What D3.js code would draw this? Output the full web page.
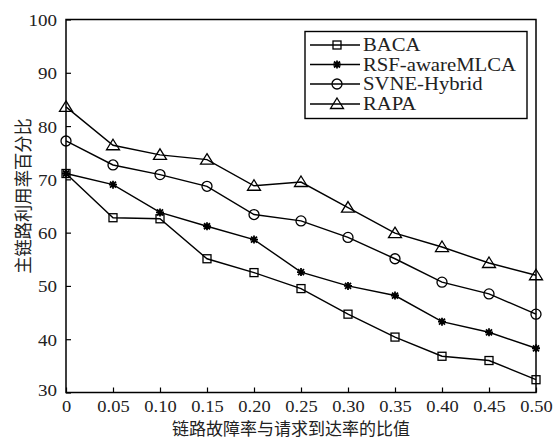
<!DOCTYPE html>
<html><head><meta charset="utf-8">
<script src="https://cdn.jsdelivr.net/npm/d3@7"></script>
<style>body{margin:0;background:#fff}svg{display:block}</style>
</head><body><svg id="c" width="558" height="440"></svg>
<script>
const xValues = [0,0.05,0.10,0.15,0.20,0.25,0.30,0.35,0.40,0.45,0.50];
const xTickLabels = ["0","0.05","0.10","0.15","0.20","0.25","0.30","0.35","0.40","0.45","0.50"];
const yTicks = [30,40,50,60,70,80,90,100];
const seriesNames = ["BACA","RSF-awareMLCA","SVNE-Hybrid","RAPA"];
const baca = [71.1,62.8,62.6,55.1,52.5,49.5,44.7,40.4,36.8,36.0,32.4];
const rsf  = [71.1,69.0,63.8,61.2,58.7,52.6,50.0,48.2,43.3,41.3,38.3];
const svne = [77.2,72.7,70.9,68.7,63.4,62.2,59.1,55.1,50.7,48.5,44.7];
const rapa = [83.6,76.4,74.6,73.7,68.8,69.5,64.7,59.9,57.3,54.3,52.0];
const markers = ["square","star","circle","triangle"];
const xTitle = "链路故障率与请求到达率的比值";
const yTitle = "主链路利用率百分比";

const svg = d3.select("#c");
const L=66,R=536,T=19.5,B=392.5;
const x = d3.scaleLinear().domain([0,0.5]).range([L,R]);
const y = d3.scaleLinear().domain([30,100]).range([B,T]);
const serif = "'Liberation Serif','Times New Roman',serif";
const cjk = "'Noto Sans CJK SC','Noto Sans CJK JP',sans-serif";
const sx = 1.12;

function drawMarker(g, type, cx, cy){
  if(type==="square"){
    g.append("rect").attr("x",cx-4).attr("y",cy-4).attr("width",8).attr("height",8)
      .attr("fill","none").attr("stroke","#000").attr("stroke-width",1.3);
  } else if(type==="circle"){
    g.append("circle").attr("cx",cx).attr("cy",cy).attr("r",5)
      .attr("fill","none").attr("stroke","#000").attr("stroke-width",1.3);
  } else if(type==="triangle"){
    g.append("path").attr("d",`M${cx},${cy-6}L${cx+6.5},${cy+4.5}L${cx-6.5},${cy+4.5}Z`)
      .attr("fill","none").attr("stroke","#000").attr("stroke-width",1.3);
  } else {
    const r=4, d=r*0.75;
    g.append("path").attr("d",`M${cx-r},${cy}L${cx+r},${cy}M${cx},${cy-r}L${cx},${cy+r}M${cx-d},${cy-d}L${cx+d},${cy+d}M${cx-d},${cy+d}L${cx+d},${cy-d}`)
      .attr("stroke","#000").attr("stroke-width",1.8);
  }
}

// axes frame
svg.append("rect").attr("x",L).attr("y",T).attr("width",R-L).attr("height",B-T)
  .attr("fill","none").attr("stroke","#000").attr("stroke-width",1.5);

const xAxis = d3.axisBottom(x).tickValues(xValues).tickSize(-5).tickFormat((d,i)=>xTickLabels[i]);
const gx = svg.append("g").attr("transform",`translate(0,${B})`).call(xAxis);
gx.select(".domain").remove();
gx.selectAll(".tick line").attr("stroke","#000").attr("stroke-width",1.2);
gx.selectAll(".tick text").attr("font-family",serif).attr("font-size",16.5).attr("fill","#222")
  .attr("y",0).attr("dy",0)
  .attr("transform",`translate(0,19) scale(${sx},1)`);

const yAxis = d3.axisLeft(y).tickValues(yTicks).tickSize(-5).tickFormat(d3.format("d"));
const gy = svg.append("g").attr("transform",`translate(${L},0)`).call(yAxis);
gy.select(".domain").remove();
gy.selectAll(".tick line").attr("stroke","#000").attr("stroke-width",1.2);
gy.selectAll(".tick text").attr("font-family",serif).attr("font-size",17).attr("fill","#222")
  .attr("x",0).attr("dy","0.35em").attr("text-anchor","end")
  .attr("transform",d=>`translate(-9,${d===30?-3:0}) scale(${sx},1)`);

// series
const data = [baca,rsf,svne,rapa];
const line = d3.line().x((d,i)=>x(xValues[i])).y(d=>y(d));
const gs = svg.append("g");
data.forEach((vals,k)=>{
  gs.append("path").datum(vals).attr("d",line).attr("fill","none").attr("stroke","#000").attr("stroke-width",1.4);
});
data.forEach((vals,k)=>{
  vals.forEach((v,i)=>drawMarker(gs,markers[k],x(xValues[i]),y(v)));
});

// legend
const lg = svg.append("g");
lg.append("rect").attr("x",305).attr("y",31.5).attr("width",222).attr("height",87)
  .attr("fill","#fff").attr("stroke","#000").attr("stroke-width",1.4);
const rows=[45,64.5,84,104];
seriesNames.forEach((n,k)=>{
  lg.append("line").attr("x1",310).attr("x2",360).attr("y1",rows[k]).attr("y2",rows[k]).attr("stroke","#000").attr("stroke-width",1.4);
  drawMarker(lg,markers[k],337,rows[k]);
  lg.append("text").attr("font-family",serif).attr("font-size",18.5).attr("fill","#222")
    .attr("transform",`translate(363,${rows[k]+6}) scale(${sx},1)`).text(n);
});

// titles
svg.append("text").attr("x",(L+R)/2-10).attr("y",435).attr("text-anchor","middle")
  .attr("font-family",cjk).attr("font-size",17).attr("fill","#222").text(xTitle);
svg.append("text").attr("text-anchor","middle")
  .attr("font-family",cjk).attr("font-size",18).attr("fill","#222")
  .attr("transform","translate(30,196) rotate(-90) scale(0.96,1)").text(yTitle);
</script></body></html>
